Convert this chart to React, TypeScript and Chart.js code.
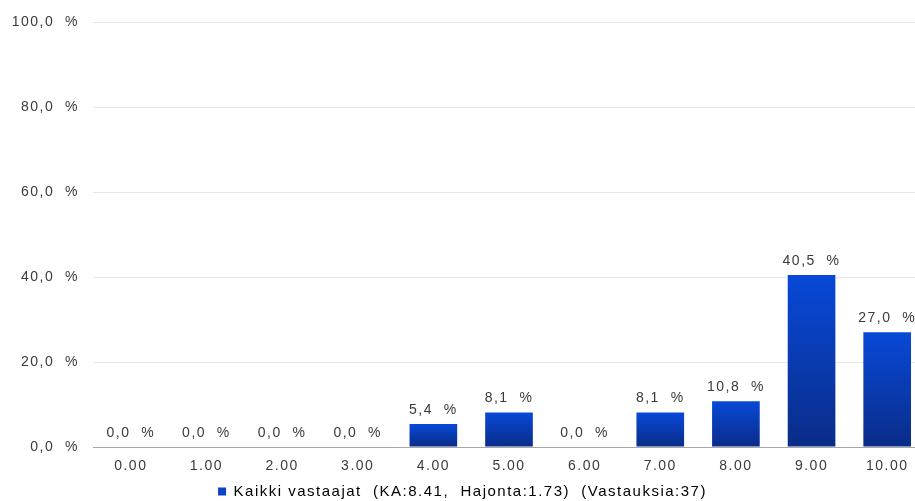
import React, { useEffect, useRef } from "react";
import { Chart, registerables } from "chart.js";

Chart.register(...registerables);

const categories = ["0.00", "1.00", "2.00", "3.00", "4.00", "5.00", "6.00", "7.00", "8.00", "9.00", "10.00"];
const values = [0, 0, 0, 0, 5.4, 8.1, 0, 8.1, 10.8, 40.5, 27.0];
const seriesLabel = "Kaikki vastaajat  (KA:8.41,  Hajonta:1.73)  (Vastauksia:37)";
const yTicks = [0, 20, 40, 60, 80, 100];

const FONT = '"Liberation Sans", Arial, sans-serif';
const SPACING = "1.5px";

const fmt = (v: number) => v.toFixed(1).replace(".", ",") + "  %";

const spacingPlugin = {
  id: "spacing",
  beforeUpdate(chart: any) {
    chart.ctx.letterSpacing = SPACING;
  },
  beforeDraw(chart: any) {
    chart.ctx.letterSpacing = SPACING;
  },
};

const dataLabels = {
  id: "dataLabels",
  afterDatasetsDraw(chart: any) {
    const ctx = chart.ctx;
    const meta = chart.getDatasetMeta(0);
    ctx.save();
    ctx.letterSpacing = SPACING;
    ctx.font = "14px " + FONT;
    ctx.fillStyle = "#3a3a3a";
    ctx.textAlign = "center";
    ctx.textBaseline = "bottom";
    meta.data.forEach((el: any, i: number) => {
      ctx.fillText(fmt(values[i]), el.x, el.y - 7);
    });
    ctx.restore();
  },
};

export default function App() {
  const ref = useRef<HTMLCanvasElement>(null);
  useEffect(() => {
    if (!ref.current) return;
    const chart = new Chart(ref.current, {
      type: "bar",
      data: {
        labels: categories,
        datasets: [
          {
            label: seriesLabel,
            data: values,
            backgroundColor: (c: any) => {
              const ch = c.chart;
              const ys = ch.scales && ch.scales.y;
              if (!ys || c.raw === undefined) return "#0a45c8";
              const top = ys.getPixelForValue(c.raw);
              const bottom = ys.getPixelForValue(0);
              if (bottom - top < 1) return "#0a45c8";
              const g = ch.ctx.createLinearGradient(0, top, 0, bottom);
              g.addColorStop(0, "#0849d8");
              g.addColorStop(1, "#0a2c88");
              return g;
            },
            borderWidth: 0,
            barPercentage: 0.63,
            categoryPercentage: 1,
          },
        ],
      },
      options: {
        animation: false,
        responsive: false,
        layout: { padding: { top: 17, right: 0, left: 0, bottom: -8 } },
        plugins: {
          tooltip: { enabled: false },
          legend: {
            position: "bottom",
            labels: {
              boxWidth: 8,
              boxHeight: 8,
              padding: 2,
              color: "#3a3a3a",
              font: { family: FONT, size: 15 },
              generateLabels: () => [
                {
                  text: seriesLabel,
                  fillStyle: "#0a45c8",
                  strokeStyle: "#0a45c8",
                  lineWidth: 0,
                  hidden: false,
                  datasetIndex: 0,
                },
              ],
            },
          },
        },
        scales: {
          x: {
            grid: { display: false, drawTicks: false },
            border: { display: true, color: "#a8a8a8", width: 1 },
            ticks: {
              color: "#3a3a3a",
              font: { family: FONT, size: 14 },
              padding: 11,
              maxRotation: 0,
            },
            afterFit: (s: any) => {
              s.height = 35;
            },
          },
          y: {
            min: 0,
            max: 100,
            afterBuildTicks: (s: any) => {
              s.ticks = yTicks.map((v) => ({ value: v }));
            },
            grid: { color: "#e6e6e6", drawTicks: false },
            border: { display: false },
            ticks: {
              color: "#3a3a3a",
              font: { family: FONT, size: 14 },
              padding: 14,
              callback: (v: any) => fmt(Number(v)),
            },
            afterFit: (s: any) => {
              s.width = 93;
            },
          },
        },
      },
      plugins: [spacingPlugin, dataLabels],
    });
    return () => chart.destroy();
  }, []);
  return (
    <div style={{ position: "absolute", left: 0, top: 0, width: 915, height: 501, overflow: "hidden", background: "#fff" }}>
      <canvas ref={ref} width={925} height={501} style={{ display: "block" }} />
    </div>
  );
}
